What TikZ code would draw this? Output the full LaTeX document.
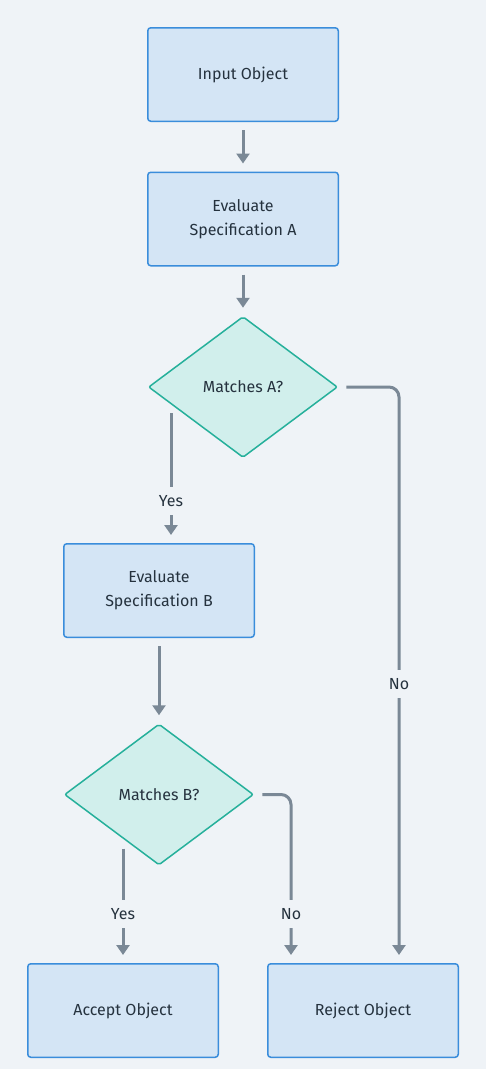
\documentclass[tikz,border=0pt]{standalone}
\usepackage{fontspec}
\setmainfont{Fira Sans}
\usetikzlibrary{shapes.geometric,arrows.meta,calc}
\definecolor{bg}{HTML}{EFF3F7}
\definecolor{boxfill}{HTML}{D4E5F5}
\definecolor{boxline}{HTML}{3A8DDB}
\definecolor{dfill}{HTML}{D1EFEC}
\definecolor{dline}{HTML}{26B09B}
\definecolor{txt}{HTML}{25323E}
\definecolor{arrowc}{HTML}{7A8896}
\tikzset{
  procbox/.style={draw=boxline, fill=boxfill, line width=1.5pt, rounded corners=3pt,
    minimum width=190.5pt, minimum height=93.5pt, align=center, text=txt,
    font=\fontsize{16}{24}\selectfont},
  decision/.style={diamond, draw=dline, fill=dfill, line width=1.5pt, rounded corners=2pt,
    minimum width=189pt, minimum height=141pt, align=center, text=txt,
    font=\fontsize{16}{24}\selectfont},
  arr/.style={draw=arrowc, line width=3pt, -{Triangle[width=13pt,length=10pt]}},
  lbl/.style={fill=bg, text=txt, inner xsep=2pt, inner ysep=8pt,
    font=\fontsize{16}{18}\selectfont}
}
\begin{document}
\begin{tikzpicture}[x=1pt,y=-1pt]
\fill[bg] (0,0) rectangle (486,1069);
\useasboundingbox (0,0) rectangle (486,1069);

\node[procbox] (b1) at (243,74.5) {Input Object};
\node[procbox] (b2) at (243,219) {Evaluate\\Specification A};
\node[decision] (dA) at (243,387) {Matches A?};
\node[procbox] (b3) at (159,590.5) {Evaluate\\Specification B};
\node[decision] (dB) at (159,794.5) {Matches B?};
\node[procbox] (b4) at (123,1010.5) {Accept Object};
\node[procbox] (b5) at (363,1010.5) {Reject Object};

\draw[arr, shorten <=8pt, shorten >=8pt] (b1) -- (b2);
\draw[arr, shorten <=8pt, shorten >=8pt] (b2) -- (dA);
\draw[arr, shorten <=8pt, shorten >=8pt] (b3) -- (dB);

\coordinate (yA) at ($(dA.center)+(-72,26)$);
\draw[arr, shorten >=8pt] (yA) -- (yA |- b3.north);
\node[lbl] (lyA) at ($(b3.north)+(12,-42)$) {Yes};

\coordinate (nA) at ($(dA.east)+(8,0)$);
\draw[arr, rounded corners=10pt, shorten >=8pt] (nA) -| ($(b5.north)+(36,0)$);
\node[lbl] (lnA) at ($(b5.north)+(36,-279)$) {No};

\coordinate (yB) at ($(dB.center)+(-36,54)$);
\draw[arr, shorten >=8pt] (yB) -- (yB |- b4.north);
\node[lbl] (lyB) at ($(b4.north)+(0,-49)$) {Yes};

\coordinate (nB) at ($(dB.east)+(8,0)$);
\draw[arr, rounded corners=10pt, shorten >=8pt] (nB) -| ($(b5.north)+(-72,0)$);
\node[lbl] (lnB) at ($(b5.north)+(-72,-49)$) {No};
\end{tikzpicture}
\end{document}
